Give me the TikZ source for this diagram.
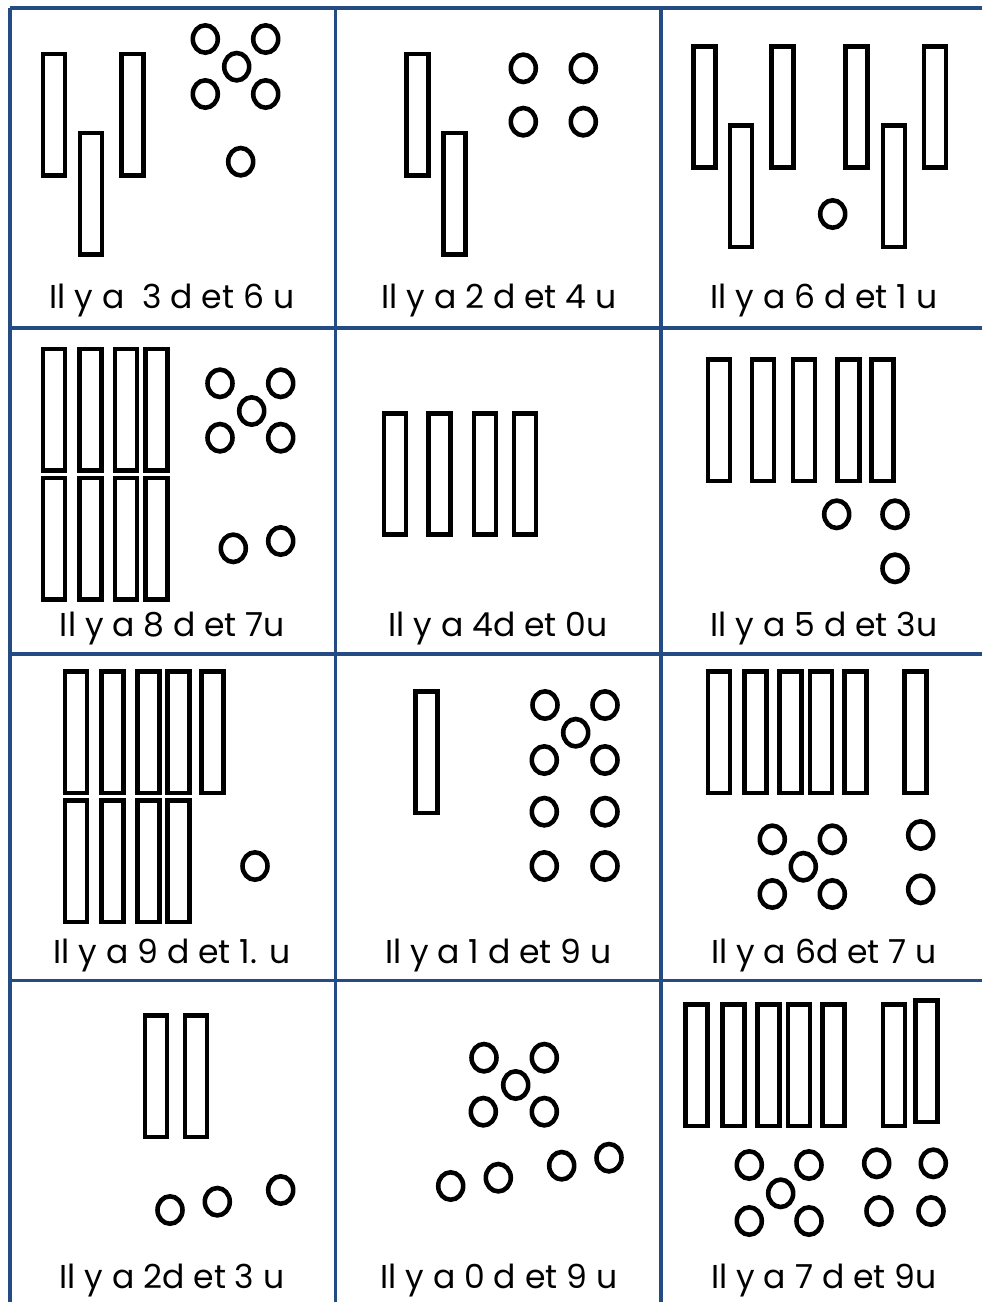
\documentclass[tikz,border=0pt]{standalone}
\usepackage{fontspec}
\setmainfont{Poppins}
\definecolor{bordure}{RGB}{36,75,130}

\begin{document}
\begin{tikzpicture}[x=0.01cm,y=-0.01cm]
\tikzset{
    cadre/.style={draw=bordure, line width=0.9pt},
    dizaine/.style={draw=black, line width=1.3pt},
    unite/.style={draw=black, line width=1.3pt},
    etiquette/.style={anchor=base, inner sep=0pt, font=\fontsize{9.4}{10}\selectfont},
}
\def\Diz(#1,#2){\draw[dizaine] (#1+2.3,#2+2.3) rectangle ++(22.1,121.4);}
\def\Uni(#1,#2){\draw[unite] (#1,#2) ellipse [x radius=12.5, y radius=13.7];}
\useasboundingbox (0,0) rectangle (982,1302);

% The grid of the table first.
\draw[cadre] (10,8) -- (986,8);
\draw[cadre] (10,328) -- (986,328);
\draw[cadre] (10,654) -- (986,654);
\draw[cadre] (10,980.5) -- (986,980.5);
\draw[cadre] (10,8) -- (10,1306);
\draw[cadre] (335.5,8) -- (335.5,1306);
\draw[cadre] (661,8) -- (661,1306);

% Row 1.
\Diz(40.7,51.7) \Diz(77.7,130.7) \Diz(119,51.7)
\Uni(205.3,39) \Uni(265.7,39) \Uni(236.7,66.7) \Uni(205.3,94) \Uni(265.7,94) \Uni(240.7,161.7)
\node[etiquette] (l1) at (172,308) {Il y a~ 3 d et 6 u};

\Diz(404,51.7) \Diz(441,130.7)
\Uni(523.3,68.3) \Uni(583.3,68.3) \Uni(523.3,121.7) \Uni(583.3,121.7)
\node[etiquette] (l2) at (499,308) {Il y a 2 d et 4 u};

\foreach \x/\y in {691/44, 727.7/123.3, 769/44, 843.3/44, 880.7/123.3, 921.7/44} {\Diz(\x,\y)}
\Uni(832.7,214)
\node[etiquette] (l3) at (824,308) {Il y a 6 d et 1 u};

% Row 2.
\foreach \x in {40.7, 77.3, 112.7, 143.3} {\Diz(\x,346.7) \Diz(\x,475.7)}
\Uni(220,383.3) \Uni(280.7,383.3) \Uni(251.7,411) \Uni(220,437.7) \Uni(280.7,437.7)
\Uni(233.3,548.3) \Uni(280.7,541)
\node[etiquette] (l4) at (172.5,636.5) {Il y a 8 d et 7u};

\foreach \x in {381.7, 426, 471.7, 511.7} {\Diz(\x,411)}
\node[etiquette] (l5) at (498,636.5) {Il y a 4d et 0u};

\foreach \x in {705.7, 749.7, 790.7, 835.3, 869} {\Diz(\x,357.3)}
\Uni(836.7,514.3) \Uni(895,514.3) \Uni(895,568.3)
\node[etiquette] (l6) at (824,636.5) {Il y a 5 d et 3u};

% Row 3.
\foreach \x in {62.7, 99.3, 135, 165.3, 199.3} {\Diz(\x,669.3)}
\foreach \x in {62.7, 99.3, 135, 165.3} {\Diz(\x,798.3)}
\Uni(255,866)
\node[etiquette] (l7) at (172,963) {Il y a 9 d et 1. u};

\Diz(413.3,689.3)
\Uni(545,705) \Uni(605,705) \Uni(575.7,732.7) \Uni(544.3,760) \Uni(605,760)
\Uni(544.3,811.7) \Uni(605,811.7) \Uni(544.3,866) \Uni(605,866)
\node[etiquette] (l8) at (498.3,963) {Il y a 1 d et 9 u};

\foreach \x in {705.7, 742.3, 777.3, 807.7, 842.3, 902.3} {\Diz(\x,669.3)}
\Uni(772.3,839.3) \Uni(832.3,839.3) \Uni(803.3,866.7) \Uni(772.3,894) \Uni(832.3,894)
\Uni(920.7,835) \Uni(920.7,889.3)
\node[etiquette] (l9) at (824,963) {Il y a 6d et 7 u};

% Row 4.
\Diz(142.7,1013.3) \Diz(182.7,1013.3)
\Uni(170,1210) \Uni(217.3,1201.7) \Uni(280.7,1190)
\node[etiquette] (l10) at (172,1288) {Il y a 2d et 3 u};

\Uni(484,1057.7) \Uni(544.3,1057.7) \Uni(515.7,1085) \Uni(483.3,1111.7) \Uni(544.3,1111.7)
\Uni(450.7,1186) \Uni(498.3,1177.7) \Uni(561.7,1165.7) \Uni(609,1157.7)
\node[etiquette] (l11) at (499,1288) {Il y a 0 d et 9 u};

\foreach \x in {683.3, 720, 755, 785.7, 820, 880.7} {\Diz(\x,1002.3)}
\Diz(913.3,998.3)
\Uni(749.3,1165) \Uni(809,1165) \Uni(780.7,1193.3) \Uni(749.3,1221) \Uni(809,1221)
\Uni(876.7,1163.3) \Uni(933.3,1163.3) \Uni(879,1211) \Uni(931,1211)
\node[etiquette] (l12) at (824,1288) {Il y a 7 d et 9u};
\end{tikzpicture}
\end{document}
